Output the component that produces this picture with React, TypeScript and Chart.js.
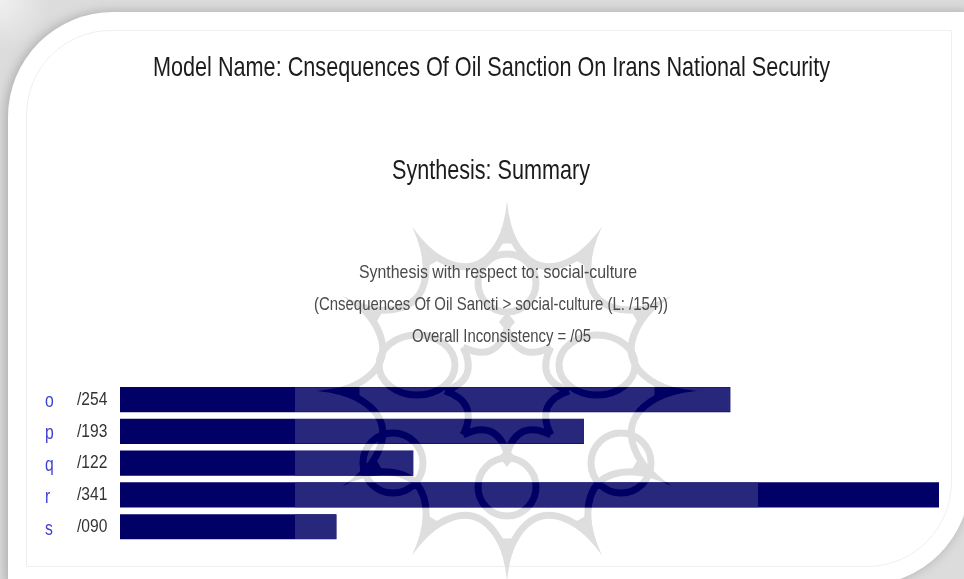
import React, { useEffect, useRef } from "react";
import { Chart, registerables } from "chart.js";

Chart.register(...registerables);

const categories = ["o", "p", "q", "r", "s"];
const priorities = [254, 193, 122, 341, 90];
const priorityLabels = ["/254", "/193", "/122", "/341", "/090"];
const mainTitle = "Model Name: Cnsequences Of Oil Sanction On Irans National Security";
const subTitle = "Synthesis: Summary";
const infoLines = [
  "Synthesis with respect to: social-culture",
  "(Cnsequences Of Oil Sancti > social-culture (L: /154))",
  "Overall Inconsistency = /05",
];

const SANS = '"Liberation Sans", Arial, sans-serif';

const CX = 507;
const CY = 391;
const pt = (deg: number, r: number): [number, number] => {
  const a = (deg * Math.PI) / 180;
  return [CX + r * Math.sin(a), CY - r * Math.cos(a)];
};

function traceLines(ctx: CanvasRenderingContext2D) {
  ctx.beginPath();
  // scalloped outer star: an arch between each pair of spikes
  for (let i = 0; i < 12; i++) {
    const [x0, y0] = pt(i * 30, 165);
    const [qx, qy] = pt(i * 30 + 15, 100);
    const [x1, y1] = pt(i * 30 + 30, 165);
    ctx.moveTo(x0, y0);
    ctx.quadraticCurveTo(qx, qy, x1, y1);
  }
  // loops round the centre
  const loops: [number, number, number, number][] = [
    [417, 365, 38, 30],
    [597, 365, 38, 30],
    [393, 463, 30, 30],
    [621, 463, 30, 30],
    [507, 487, 29, 29],
    [507, 283, 29, 29],
  ];
  loops.forEach(([x, y, rx, ry]) => {
    ctx.moveTo(x + rx, y);
    ctx.ellipse(x, y, rx, ry, 0, 0, Math.PI * 2);
  });
  // central flower
  for (let i = 0; i < 8; i++) {
    const [x0, y0] = pt(i * 45, 62);
    const [qx, qy] = pt(i * 45 + 22.5, 30);
    const [x1, y1] = pt(i * 45 + 45, 62);
    ctx.moveTo(x0, y0);
    ctx.quadraticCurveTo(qx, qy, x1, y1);
  }
}

function traceSpikes(ctx: CanvasRenderingContext2D) {
  ctx.beginPath();
  for (let i = 0; i < 12; i++) {
    const [tx, ty] = pt(i * 30, 190);
    const [ax, ay] = pt(i * 30 - 4.5, 148);
    const [bx, by] = pt(i * 30 + 4.5, 148);
    const [c0x, c0y] = pt(i * 30 - 0.8, 165);
    const [c1x, c1y] = pt(i * 30 + 0.8, 165);
    ctx.moveTo(tx, ty);
    ctx.quadraticCurveTo(c0x, c0y, ax, ay);
    ctx.lineTo(bx, by);
    ctx.quadraticCurveTo(c1x, c1y, tx, ty);
    ctx.closePath();
  }
  // small diamonds on the vertical axis
  ([457, 322] as number[]).forEach((y) => {
    ctx.moveTo(CX, y - 10);
    ctx.lineTo(CX + 8, y);
    ctx.lineTo(CX, y + 10);
    ctx.lineTo(CX - 8, y);
    ctx.closePath();
  });
}

function paintWatermark(ctx: CanvasRenderingContext2D, color: string) {
  ctx.strokeStyle = color;
  ctx.fillStyle = color;
  ctx.lineWidth = 7;
  traceLines(ctx);
  ctx.stroke();
  traceSpikes(ctx);
  ctx.fill();
}

const watermarkPlugin = {
  id: "watermark",
  beforeDatasetsDraw(chart: Chart) {
    const { ctx } = chart;
    ctx.save();
    paintWatermark(ctx, "#dedede");
    ctx.restore();
  },
  afterDatasetsDraw(chart: Chart) {
    const { ctx } = chart;
    const bars = chart.getDatasetMeta(0).data as any[];
    ctx.save();
    ctx.beginPath();
    bars.forEach((b) => {
      const left = Math.max(b.base, 295);
      const right = Math.min(b.x, 758);
      ctx.rect(left, b.y - b.height / 2, right - left, b.height);
    });
    ctx.clip();
    ctx.fillStyle = "#27277c";
    ctx.fillRect(295, 370, 463, 190);
    paintWatermark(ctx, "#000064");
    ctx.restore();
  },
};

const textPlugin = {
  id: "headerText",
  afterDraw(chart: Chart) {
    const { ctx } = chart;
    const rows: [string, number, number, number, string, string][] = [
      [mainTitle, 491.5, 68, 677, `27.5px ${SANS}`, "#1c1c1c"],
      [subTitle, 491, 171, 198, `27.5px ${SANS}`, "#1c1c1c"],
      [infoLines[0], 498, 273, 278, `19px ${SANS}`, "#4a4a4a"],
      [infoLines[1], 491, 305, 354, `19px ${SANS}`, "#4a4a4a"],
      [infoLines[2], 501.5, 337, 179, `19px ${SANS}`, "#4a4a4a"],
    ];
    ctx.save();
    ctx.textAlign = "center";
    ctx.textBaseline = "middle";
    rows.forEach(([text, x, y, w, font, color]) => {
      ctx.font = font;
      ctx.fillStyle = color;
      ctx.fillText(text, x, y, w);
    });
    // Axis labels, placed by the library's own scales, narrowed like the reference.
    const drawAxis = (id: string, x: number, dy: number, sx: number, size: number, color: string) => {
      const scale: any = chart.scales[id];
      ctx.font = `${size}px ${SANS}`;
      ctx.fillStyle = color;
      ctx.textAlign = "left";
      scale.ticks.forEach((_: any, i: number) => {
        ctx.save();
        ctx.translate(x, scale.getPixelForTick(i) + dy);
        ctx.scale(sx, 1);
        ctx.fillText(scale.getLabelForValue(i), 0, 0);
        ctx.restore();
      });
    };
    drawAxis("y", 45, 2, 0.75, 21, "#3f3fd0");
    drawAxis("yValues", 77, 0, 0.82, 19, "#333333");
    ctx.restore();
  },
};

export default function App() {
  const ref = useRef<HTMLCanvasElement>(null);
  useEffect(() => {
    const chart = new Chart(ref.current!, {
      type: "bar",
      data: {
        labels: categories,
        datasets: [
          {
            data: priorities,
            backgroundColor: "#000066",
            barThickness: 24.5,
            yAxisID: "y",
          },
        ],
      },
      plugins: [watermarkPlugin, textPlugin],
      options: {
        indexAxis: "y",
        animation: false,
        responsive: false,
        devicePixelRatio: 1,
        layout: { padding: { left: 45, right: 25, top: 383.7, bottom: 36.4 } },
        plugins: { legend: { display: false }, tooltip: { enabled: false }, title: { display: false } },
        scales: {
          x: { display: false, min: 0, max: 341 },
          y: {
            type: "category",
            position: "left",
            weight: 2,
            offset: true,
            border: { display: false },
            grid: { display: false, drawTicks: false },
            ticks: { display: false },
            afterFit(s: any) {
              s.width = 32;
            },
          },
          yValues: {
            type: "category",
            position: "left",
            weight: 1,
            labels: priorityLabels,
            offset: true,
            border: { display: false },
            grid: { display: false, drawTicks: false },
            ticks: { display: false },
            afterFit(s: any) {
              s.width = 43;
            },
          },
        },
      } as any,
    });
    return () => chart.destroy();
  }, []);

  return (
    <div
      style={{
        position: "fixed",
        left: 0,
        top: 0,
        width: 964,
        height: 579,
        overflow: "hidden",
        background: "radial-gradient(circle at 0 0, #f0f0f0 0, #dcdcdc 50px)",
      }}
    >
      <div
        style={{
          position: "absolute",
          left: 8,
          top: 12,
          width: 962,
          height: 573,
          background: "#fff",
          borderRadius: "105px 0 105px 0",
          boxShadow: "-2px 0 12px #a8a8a8",
        }}
      />
      <div
        style={{
          position: "absolute",
          left: 26,
          top: 30,
          width: 926,
          height: 537,
          border: "1px solid #efefef",
          boxSizing: "border-box",
          borderRadius: "85px 0 85px 0",
        }}
      />
      <canvas
        ref={ref}
        width={964}
        height={579}
        style={{ position: "absolute", left: 0, top: 0, width: 964, height: 579, filter: "blur(0.45px)" }}
      />
    </div>
  );
}
